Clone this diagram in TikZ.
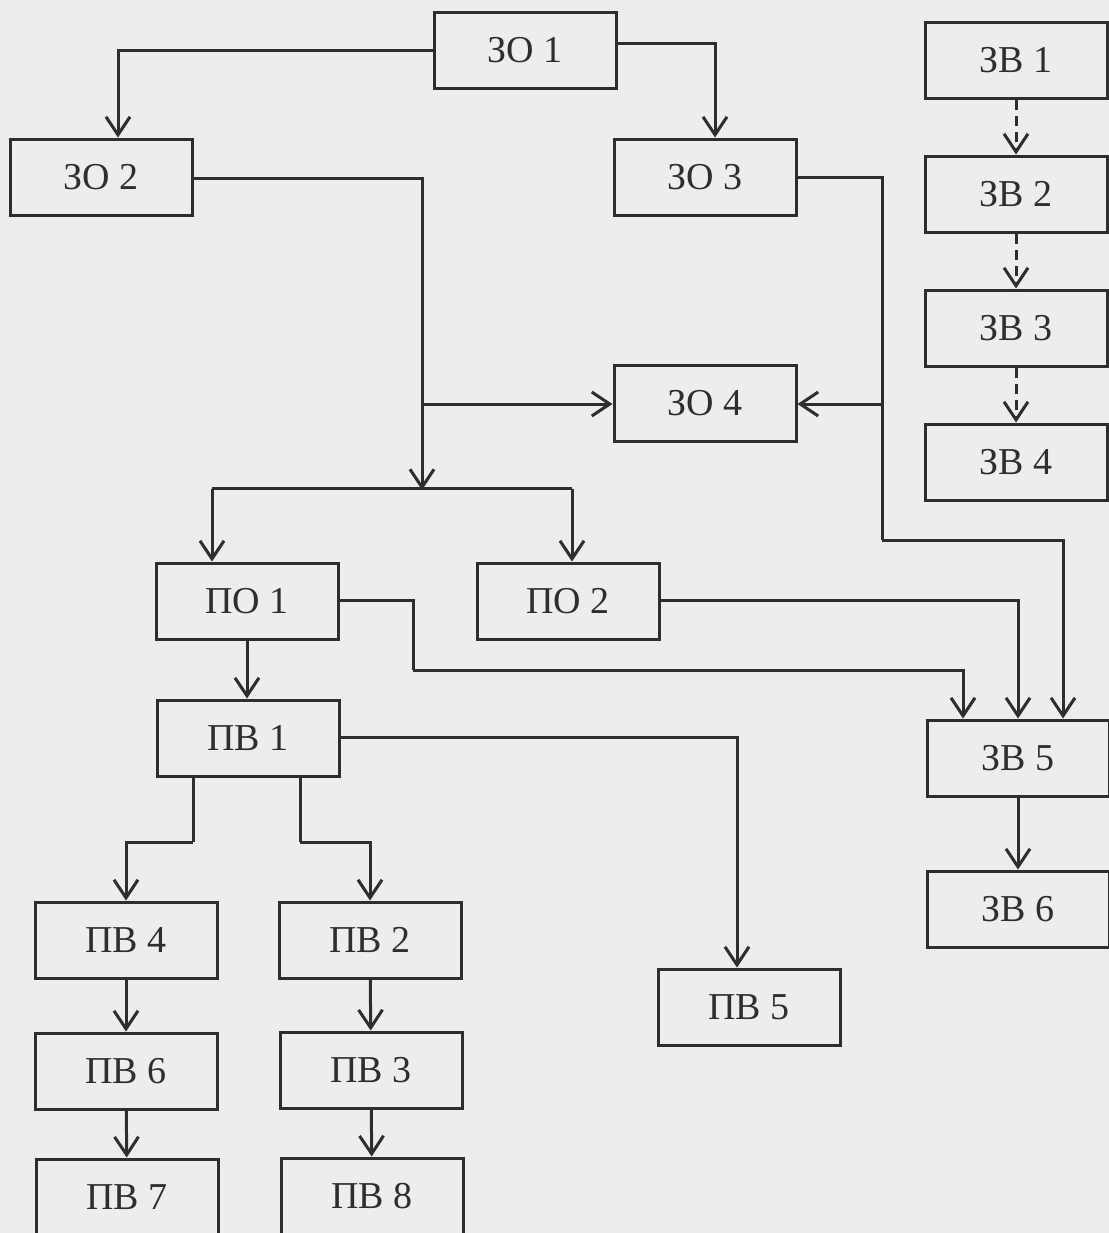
\documentclass[tikz,border=0pt]{standalone}
\usepackage{fontspec}
\setmainfont{Liberation Serif}
\usetikzlibrary{arrows.meta,calc}
\definecolor{paper}{HTML}{EDEDED}
\definecolor{ink}{HTML}{2E2E2E}
\begin{document}
\begin{tikzpicture}[x=0.5pt,y=-0.5pt,
  box/.style={draw=ink, line width=1.5pt, minimum width=91pt, minimum height=38pt, inner sep=0pt,
    text=ink, font=\fontsize{19}{23}\selectfont},
  conn/.style={draw=ink, line width=1.5pt, -{Straight Barb[length=9pt,width=12pt,line width=1.5pt]}},
  plain/.style={draw=ink, line width=1.5pt},
  dashconn/.style={conn, dash pattern=on 5pt off 3pt}]
\fill[paper] (0,0) rectangle (1109,1233);
\useasboundingbox (0,0) rectangle (1109,1233);

\node[box] (zo1) at (525,50) {ЗО 1};
\node[box] (zo2) at (101,177) {ЗО 2};
\node[box] (zo3) at (705,177) {ЗО 3};
\node[box] (zo4) at (705,403) {ЗО 4};
\node[box] (zv1) at (1016,60) {ЗВ 1};
\node[box] (zv2) at (1016,194) {ЗВ 2};
\node[box] (zv3) at (1016,328) {ЗВ 3};
\node[box] (zv4) at (1016,462) {ЗВ 4};
\node[box] (zv5) at (1018,758) {ЗВ 5};
\node[box] (zv6) at (1018,909) {ЗВ 6};
\node[box] (po1) at (247,601) {ПО 1};
\node[box] (po2) at (568,601) {ПО 2};
\node[box] (pv1) at (248,738) {ПВ 1};
\node[box] (pv4) at (126,940) {ПВ 4};
\node[box] (pv2) at (370,940) {ПВ 2};
\node[box] (pv5) at (749,1007) {ПВ 5};
\node[box] (pv6) at (126,1071) {ПВ 6};
\node[box] (pv3) at (371,1070) {ПВ 3};
\node[box] (pv7) at (127,1197) {ПВ 7};
\node[box] (pv8) at (372,1196) {ПВ 8};

\coordinate (j1) at (422,404);
\coordinate (j2) at (422,490);
\coordinate (j3) at (882,404);
\coordinate (j4) at (882,540);
\coordinate (j5) at (413,670);
\coordinate (j6) at (193,842);
\coordinate (j7) at (300,842);

% top
\draw[conn] (zo1.west) -| ($(zo2.north)+(17,0)$);
\draw[conn] ($(zo1.east)+(0,-7)$) -| ($(zo3.north)+(10,0)$);
% ZO2 to PO
\draw[plain] ($(zo2.east)+(0,1)$) -| (j1);
\draw[conn] (j1) -- (j2);
\draw[conn] (j1) -- (zo4.west |- j1);
\draw[plain] ($(po1.north)+(-35,-73)$) -- ($(po2.north)+(4,-73)$);
\draw[conn] ($(po1.north)+(-35,-73)$) -- ($(po1.north)+(-35,0)$);
\draw[conn] ($(po2.north)+(4,-73)$) -- ($(po2.north)+(4,0)$);
% ZO3 to ZV5
\draw[plain] (zo3.east) -| (j4);
\draw[conn] (j3) -- (zo4.east |- j3);
\draw[conn] (j4) -| ($(zv5.north)+(45,0)$);
% ZV dashed chain
\draw[dashconn] (zv1) -- (zv2);
\draw[dashconn] (zv2) -- (zv3);
\draw[dashconn] (zv3) -- (zv4);
% PO to ZV5
\draw[plain] ($(po1.east)+(0,-1)$) -| (j5);
\draw[conn] (j5) -| ($(zv5.north)+(-55,0)$);
\draw[conn] ($(po2.east)+(0,-1)$) -| (zv5.north);
\draw[conn] (zv5) -- (zv6);
% PV tree
\draw[conn] (po1.south) -- (po1.south |- pv1.north);
\draw[conn] ($(pv1.east)+(0,-1)$) -| ($(pv5.north)+(-12,0)$);
\draw[plain] (pv1.south -| j6) -- (j6);
\draw[conn] (j6) -| (pv4.north);
\draw[plain] (pv1.south -| j7) -- (j7);
\draw[conn] (j7) -| (pv2.north);
\draw[conn] (pv4) -- (pv6);
\draw[conn] (pv6) -- (pv7);
\draw[conn] (pv2) -- (pv3);
\draw[conn] (pv3) -- (pv8);
\end{tikzpicture}
\end{document}
